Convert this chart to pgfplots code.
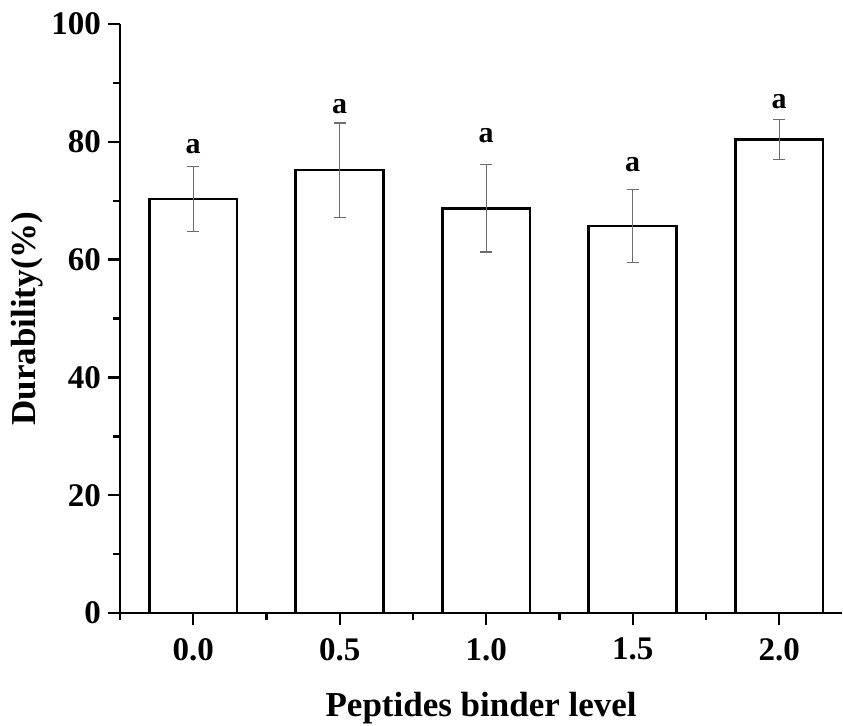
\documentclass[border=0pt]{standalone}
\usepackage{fontspec}
\setmainfont{Liberation Serif}
\usepackage{pgfplots}
\pgfplotsset{compat=1.18}
\pgfplotstableread{
x y e
0 70.3 5.5
1 75.2 8.0
2 68.7 7.4
3 65.7 6.2
4 80.4 3.45
}\datatable
\begin{document}
\begin{tikzpicture}
\begin{axis}[
  x=73.25pt, y=2.945pt,
  xmin=-0.5, xmax=4.43, ymin=0, ymax=100,
  axis lines=left,
  axis line style={-, line width=1.4pt},
  ybar, bar width=0.6,
  xtick={0,1,2,3,4},
  xticklabels={0.0,0.5,1.0,1.5,2.0},
  minor xtick={-0.5,0.5,1.5,2.5,3.5},
  ytick={0,20,40,60,80,100},
  minor ytick={10,30,50,70,90},
  tick align=outside,
  major tick length=6pt, minor tick length=3.5pt,
  every tick/.style={black, line width=1.2pt},
  /pgf/number format/assume math mode=true,
  tick label style={font=\fontsize{16.5}{18}\selectfont\bfseries},
  xticklabel style={yshift=-3pt},
  xlabel={Peptides binder level},
  ylabel={Durability(\%)},
  label style={font=\fontsize{17.5}{19}\selectfont\bfseries},
  xlabel style={yshift=-9pt},
  ylabel style={yshift=-2.5pt},
  clip=false,
]
\addplot[draw=black, fill=white, line width=1.3pt,
  error bars/.cd, y dir=both, y explicit,
  error bar style={draw=gray!85!black, line width=0.6pt},
  error mark options={rotate=90, mark size=3pt, draw=gray!85!black, line width=0.6pt}]
  table[x=x, y=y, y error=e] {\datatable};
\coordinate (bl) at (axis cs:-0.5,0);
\node[font=\fontsize{15}{16}\selectfont\bfseries] at (axis cs:0,79.1) {a};
\node[font=\fontsize{15}{16}\selectfont\bfseries] at (axis cs:1,85.9) {a};
\node[font=\fontsize{15}{16}\selectfont\bfseries] at (axis cs:2,81.0) {a};
\node[font=\fontsize{15}{16}\selectfont\bfseries] at (axis cs:3,76.1) {a};
\node[font=\fontsize{15}{16}\selectfont\bfseries] at (axis cs:4,86.8) {a};
\end{axis}
\pgfresetboundingbox
\path ([shift={(-60pt,-56pt)}]bl) rectangle ([shift={(361.5pt,306.5pt)}]bl);
\end{tikzpicture}
\end{document}
